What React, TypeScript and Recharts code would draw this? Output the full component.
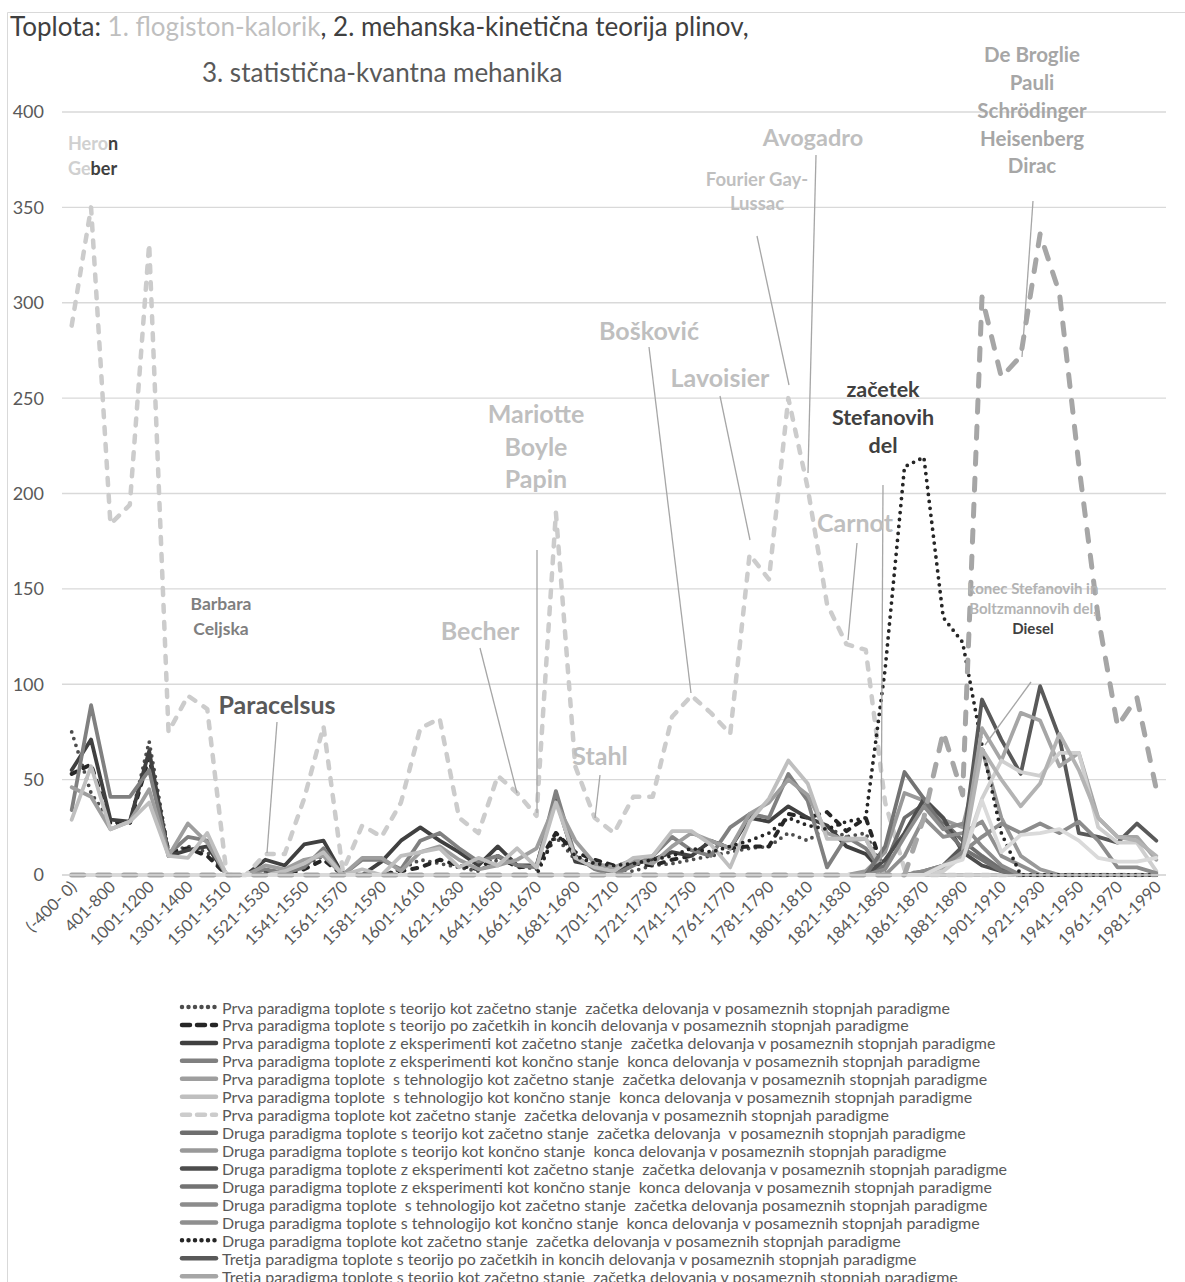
import React from 'react';
import { LineChart, Line, XAxis, YAxis, CartesianGrid } from 'recharts';

const categories = [
  '(-400- 0)', '1-400', '401-800', '801-1000', '1001-1200', '1201-1300', '1301-1400', '1401-1500',
  '1501-1510', '1511-1520', '1521-1530', '1531-1540', '1541-1550', '1551-1560', '1561-1570', '1571-1580',
  '1581-1590', '1591-1600', '1601-1610', '1611-1620', '1621-1630', '1631-1640', '1641-1650', '1651-1660',
  '1661-1670', '1671-1680', '1681-1690', '1691-1700', '1701-1710', '1711-1720', '1721-1730', '1731-1740',
  '1741-1750', '1751-1760', '1761-1770', '1771-1780', '1781-1790', '1791-1800', '1801-1810', '1811-1820',
  '1821-1830', '1831-1840', '1841-1850', '1851-1860', '1861-1870', '1871-1880', '1881-1890', '1891-1900',
  '1901-1910', '1911-1920', '1921-1930', '1931-1940', '1941-1950', '1951-1960', '1961-1970', '1971-1980',
  '1981-1990',
];

const yTicks = [0, 50, 100, 150, 200, 250, 300, 350, 400];

const p1TeorZac = [75,43,28,27,70,12,15,12,0,0, 3,1,5,10,2,0,0,3,8,6, 4,2,8,5,3,20,8,4,3,2, 5,6,8,10,12,14,15,22,18,25, 20,22,0,0,0,0,0,0,0,0, 0,0,0,0,0,0,0];
const p1TeorPoZk = [53,58,27,27,62,12,14,10,0,0, 2,0,3,8,0,0,0,2,4,8, 5,3,10,4,5,22,12,8,5,6, 5,8,10,18,14,15,15,32,30,33, 23,30,0,0,0,0,0,0,0,0, 0,0,0,0,0,0,0];
const p1EkspZac = [55,71,29,28,65,10,13,15,0,0, 8,5,16,18,0,0,7,18,25,18, 12,5,15,5,5,40,7,5,2,6, 8,12,10,18,14,30,28,36,30,26, 15,11,0,0,0,0,0,0,0,0, 0,0,0,0,0,0,0];
const p1EkspKon = [34,89,41,41,55,11,20,18,0,0, 3,1,4,14,0,8,8,3,18,22, 14,7,10,5,4,44,10,3,0,5, 10,20,13,10,25,32,30,53,39,4, 20,14,0,0,0,0,0,0,0,0, 0,0,0,0,0,0,0];
const p1TehnZac = [46,41,24,28,45,10,27,17,0,0, 5,3,8,10,0,9,9,2,12,15, 8,3,5,8,14,38,18,6,4,8, 6,15,22,18,14,32,38,50,42,22, 18,19,0,0,0,0,0,0,0,0, 0,0,0,0,0,0,0];
const p1TehnKon = [29,57,24,28,38,10,9,22,0,0, 0,2,6,12,0,3,0,10,12,14, 4,9,5,14,4,38,9,4,2,9, 10,23,23,16,4,28,40,60,48,19, 19,19,0,0,0,0,0,0,0,0, 0,0,0,0,0,0,0];
const p1Zac = [288,350,184,194,331,75,94,87,0,0, 11,11,40,78,2,26,20,38,77,82, 30,22,52,43,31,190,57,30,22,41, 41,83,94,85,74,168,155,250,203,142, 121,118,38,3,0,0,0,0,0,0, 0,0,0,0,0,0,0];

const d2TeorZac = [0,0,0,0,0,0,0,0,0,0, 0,0,0,0,0,0,0,0,0,0, 0,0,0,0,0,0,0,0,0,0, 0,0,0,0,0,0,0,0,0,0, 0,0,5,30,37,28,18,10,3,0, 0,0,0,0,0,0,0];
const d2TeorKon = [0,0,0,0,0,0,0,0,0,0, 0,0,0,0,0,0,0,0,0,0, 0,0,0,0,0,0,0,0,0,0, 0,0,0,0,0,0,0,0,0,0, 0,2,12,43,39,29,25,66,30,10, 3,0,0,0,0,0,0];
const d2EkspZac = [0,0,0,0,0,0,0,0,0,0, 0,0,0,0,0,0,0,0,0,0, 0,0,0,0,0,0,0,0,0,0, 0,0,0,0,0,0,0,0,0,0, 0,0,8,22,40,30,12,5,2,0, 0,0,0,0,0,0,0];
const d2EkspKon = [0,0,0,0,0,0,0,0,0,0, 0,0,0,0,0,0,0,0,0,0, 0,0,0,0,0,0,0,0,0,0, 0,0,0,0,0,0,0,0,0,0, 0,0,15,54,40,25,14,8,2,0, 0,0,0,0,0,0,0];
const d2TehnZac = [0,0,0,0,0,0,0,0,0,0, 0,0,0,0,0,0,0,0,0,0, 0,0,0,0,0,0,0,0,0,0, 0,0,0,0,0,0,0,0,0,0, 0,0,3,20,36,24,27,15,5,0, 0,0,0,0,0,0,0];
const d2TehnKon = [0,0,0,0,0,0,0,0,0,0, 0,0,0,0,0,0,0,0,0,0, 0,0,0,0,0,0,0,0,0,0, 0,0,0,0,0,0,0,0,0,0, 0,0,0,10,30,20,22,28,10,5, 0,0,0,0,0,0,0];
const d2Zac = [0,0,0,0,0,0,0,0,0,0, 0,0,0,0,0,0,0,0,0,0, 0,0,0,0,0,22,10,6,5,6, 8,10,14,12,15,18,22,30,26,24, 28,30,108,214,219,135,122,68,22,0, 0,0,0,0,0,0,0];

const t3TeorPoZk = [0,0,0,0,0,0,0,0,0,0, 0,0,0,0,0,0,0,0,0,0, 0,0,0,0,0,0,0,0,0,0, 0,0,0,0,0,0,0,0,0,0, 0,0,0,0,2,5,15,92,71,53, 99,72,22,20,17,27,18];
const t3TeorZac = [0,0,0,0,0,0,0,0,0,0, 0,0,0,0,0,0,0,0,0,0, 0,0,0,0,0,0,0,0,0,0, 0,0,0,0,0,0,0,0,0,0, 0,0,0,0,1,3,12,77,60,85, 81,57,64,30,20,20,8];
const t3TeorKon = [0,0,0,0,0,0,0,0,0,0, 0,0,0,0,0,0,0,0,0,0, 0,0,0,0,0,0,0,0,0,0, 0,0,0,0,0,0,0,0,0,0, 0,0,0,0,0,2,10,40,60,54, 52,64,64,25,17,17,2];
const t3EkspZac = [0,0,0,0,0,0,0,0,0,0, 0,0,0,0,0,0,0,0,0,0, 0,0,0,0,0,0,0,0,0,0, 0,0,0,0,0,0,0,0,0,0, 0,0,0,0,0,5,10,66,50,36, 48,74,55,30,20,18,10];
const t3EkspKon = [0,0,0,0,0,0,0,0,0,0, 0,0,0,0,0,0,0,0,0,0, 0,0,0,0,0,0,0,0,0,0, 0,0,0,0,0,0,0,0,0,0, 0,0,0,0,2,5,12,20,27,22, 27,22,28,18,4,4,1];
const t3Tehn = [0,0,0,0,0,0,0,0,0,0, 0,0,0,0,0,0,0,0,0,0, 0,0,0,0,0,0,0,0,0,0, 0,0,0,0,0,0,0,0,0,0, 0,0,0,0,0,5,8,39,12,21, 22,24,18,9,7,7,9];
const t3Zac = [0,0,0,0,0,0,0,0,0,0, 0,0,0,0,0,0,0,0,0,0, 0,0,0,0,0,0,0,0,0,0, 0,0,0,0,0,0,0,0,0,0, 0,0,0,0,30,75,42,303,261,272, 336,305,215,135,78,93,45];

type S = { key: string; name: string; values: number[]; color: string; width: number; dash?: string; kind: 'solid' | 'dash' | 'dot' };

const series: S[] = [
  { key: 'p1TeorZac', name: 'Prva paradigma toplote s teorijo kot začetno stanje  začetka delovanja v posameznih stopnjah paradigme', values: p1TeorZac, color: '#4d4d4d', width: 3.8, dash: '0 7', kind: 'dot' },
  { key: 'p1TeorPoZk', name: 'Prva paradigma toplote s teorijo po začetkih in koncih delovanja v posameznih stopnjah paradigme', values: p1TeorPoZk, color: '#262626', width: 4, dash: '5 8', kind: 'dash' },
  { key: 'p1EkspZac', name: 'Prva paradigma toplote z eksperimenti kot začetno stanje  začetka delovanja v posameznih stopnjah paradigme', values: p1EkspZac, color: '#404040', width: 3.8, kind: 'solid' },
  { key: 'p1EkspKon', name: 'Prva paradigma toplote z eksperimenti kot končno stanje  konca delovanja v posameznih stopnjah paradigme', values: p1EkspKon, color: '#808080', width: 3.8, kind: 'solid' },
  { key: 'p1TehnZac', name: 'Prva paradigma toplote  s tehnologijo kot začetno stanje  začetka delovanja v posameznih stopnjah paradigme', values: p1TehnZac, color: '#9e9e9e', width: 3.8, kind: 'solid' },
  { key: 'p1TehnKon', name: 'Prva paradigma toplote  s tehnologijo kot končno stanje  konca delovanja v posameznih stopnjah paradigme', values: p1TehnKon, color: '#bfbfbf', width: 3.8, kind: 'solid' },
  { key: 'p1Zac', name: 'Prva paradigma toplote kot začetno stanje  začetka delovanja v posameznih stopnjah paradigme', values: p1Zac, color: '#cccccc', width: 4.5, dash: '7 10', kind: 'dash' },
  { key: 'd2TeorZac', name: 'Druga paradigma toplote s teorijo kot začetno stanje  začetka delovanja  v posameznih stopnjah paradigme', values: d2TeorZac, color: '#6e6e6e', width: 3.8, kind: 'solid' },
  { key: 'd2TeorKon', name: 'Druga paradigma toplote s teorijo kot končno stanje  konca delovanja v posameznih stopnjah paradigme', values: d2TeorKon, color: '#999999', width: 3.8, kind: 'solid' },
  { key: 'd2EkspZac', name: 'Druga paradigma toplote z eksperimenti kot začetno stanje  začetka delovanja v posameznih stopnjah paradigme', values: d2EkspZac, color: '#4d4d4d', width: 3.8, kind: 'solid' },
  { key: 'd2EkspKon', name: 'Druga paradigma toplote z eksperimenti kot končno stanje  konca delovanja v posameznih stopnjah paradigme', values: d2EkspKon, color: '#737373', width: 3.8, kind: 'solid' },
  { key: 'd2TehnZac', name: 'Druga paradigma toplote  s tehnologijo kot začetno stanje  začetka delovanja posameznih stopnjah paradigme', values: d2TehnZac, color: '#8c8c8c', width: 3.8, kind: 'solid' },
  { key: 'd2TehnKon', name: 'Druga paradigma toplote s tehnologijo kot končno stanje  konca delovanja v posameznih stopnjah paradigme', values: d2TehnKon, color: '#8f8f8f', width: 3.8, kind: 'solid' },
  { key: 'd2Zac', name: 'Druga paradigma toplote kot začetno stanje  začetka delovanja v posameznih stopnjah paradigme', values: d2Zac, color: '#262626', width: 3.8, dash: '0 7', kind: 'dot' },
  { key: 't3TeorPoZk', name: 'Tretja paradigma toplote s teorijo po začetkih in koncih delovanja v posameznih stopnjah paradigme', values: t3TeorPoZk, color: '#595959', width: 3.8, kind: 'solid' },
  { key: 't3TeorZac', name: 'Tretja paradigma toplote s teorijo kot začetno stanje  začetka delovanja v posameznih stopnjah paradigme', values: t3TeorZac, color: '#a6a6a6', width: 3.8, kind: 'solid' },
  { key: 't3TeorKon', name: 'Tretja paradigma toplote s teorijo kot končno stanje  konca delovanja v posameznih stopnjah paradigme', values: t3TeorKon, color: '#cfcfcf', width: 3.8, kind: 'solid' },
  { key: 't3EkspZac', name: 'Tretja paradigma toplote z eksperimenti kot začetno stanje  začetka delovanja v posameznih stopnjah paradigme', values: t3EkspZac, color: '#b3b3b3', width: 3.8, kind: 'solid' },
  { key: 't3EkspKon', name: 'Tretja paradigma toplote z eksperimenti kot končno stanje  konca delovanja v posameznih stopnjah paradigme', values: t3EkspKon, color: '#8c8c8c', width: 3.8, kind: 'solid' },
  { key: 't3Tehn', name: 'Tretja paradigma toplote s tehnologijo kot začetno stanje  začetka delovanja v posameznih stopnjah paradigme', values: t3Tehn, color: '#dadada', width: 3.8, kind: 'solid' },
  { key: 't3Zac', name: 'Tretja paradigma toplote kot začetno stanje  začetka delovanja v posameznih stopnjah paradigme', values: t3Zac, color: '#a6a6a6', width: 5, dash: '12 14', kind: 'dash' },
];

const data = categories.map((c, i) => {
  const row: Record<string, number | string> = { cat: c };
  series.forEach((s) => { row[s.key] = s.values[i]; });
  return row;
});

const FONT = 'Lato, "Open Sans", sans-serif';
const LIGHT = '#bfbfbf';
const VISIBLE_LEGEND_ROWS = 16;

const XTick = (props: any) => {
  const { x, y, payload } = props;
  const px = x + 6;
  const py = y + 13;
  return (
    <text x={px} y={py} transform={`rotate(-45 ${px} ${py})`} textAnchor="end" fontSize={16.5} fill="#595959" fontFamily={FONT}>
      {payload.value}
    </text>
  );
};

const leaders: [number, number, number, number][] = [
  [277, 722, 267, 853],
  [480, 648, 517, 793],
  [537, 550, 537, 813],
  [600, 775, 595, 818],
  [649, 347, 691, 693],
  [720, 396, 750, 540],
  [757, 236, 789, 385],
  [816, 155, 808, 473],
  [857, 543, 848, 640],
  [883, 485, 881, 862],
  [1033, 201, 1022, 357],
  [1031, 682, 985, 745],
];

const Overlay = () => {
  const legendY0 = 1007;
  const legendStep = 17.95;
  return (
    <svg width={1185} height={1282} style={{ position: 'absolute', left: 0, top: 0, pointerEvents: 'none' }} fontFamily={FONT}>
      <path d="M7.5 1282 V12.5 H1185" fill="none" stroke="#d9d9d9" strokeWidth={1} />
      <text x={10} y={26} fontSize={26} dominantBaseline="central" fill="#404040">
        <tspan>Toplota: </tspan>
        <tspan fill={LIGHT}>1. flogiston-kalorik</tspan>
        <tspan>, 2. mehanska-kinetična teorija plinov,</tspan>
      </text>
      <text x={202} y={72} fontSize={26} dominantBaseline="central" fill="#595959">3. statistična-kvantna mehanika</text>

      {leaders.map((l, i) => (
        <line key={i} x1={l[0]} y1={l[1]} x2={l[2]} y2={l[3]} stroke="#a6a6a6" strokeWidth={1.3} />
      ))}

      <g fontWeight="bold" dominantBaseline="central">
        <text x={68} y={143} fontSize={18}><tspan fill="#d0d0d0">Hero</tspan><tspan fill="#404040">n</tspan></text>
        <text x={68} y={168} fontSize={18}><tspan fill="#d0d0d0">Ge</tspan><tspan fill="#404040">ber</tspan></text>
        <text x={221} y={603} fontSize={17.5} fill="#7f7f7f" textAnchor="middle">Barbara</text>
        <text x={221} y={628} fontSize={17.5} fill="#7f7f7f" textAnchor="middle">Celjska</text>
        <text x={277} y={704} fontSize={25} fill="#595959" textAnchor="middle">Paracelsus</text>
        <text x={480} y={630} fontSize={25} fill={LIGHT} textAnchor="middle">Becher</text>
        <text x={536} y={413} fontSize={25} fill={LIGHT} textAnchor="middle">Mariotte</text>
        <text x={536} y={446} fontSize={25} fill={LIGHT} textAnchor="middle">Boyle</text>
        <text x={536} y={478} fontSize={25} fill={LIGHT} textAnchor="middle">Papin</text>
        <text x={600} y={755} fontSize={25} fill={LIGHT} textAnchor="middle">Stahl</text>
        <text x={649} y={330} fontSize={25} fill={LIGHT} textAnchor="middle">Bošković</text>
        <text x={720} y={377} fontSize={25} fill={LIGHT} textAnchor="middle">Lavoisier</text>
        <text x={757} y={179} fontSize={18.5} fill={LIGHT} textAnchor="middle">Fourier Gay-</text>
        <text x={757} y={203} fontSize={18.5} fill={LIGHT} textAnchor="middle">Lussac</text>
        <text x={813} y={137} fontSize={23.5} fill={LIGHT} textAnchor="middle">Avogadro</text>
        <text x={855} y={522} fontSize={25} fill={LIGHT} textAnchor="middle">Carnot</text>
        <text x={883} y={389} fontSize={21.5} fill="#404040" textAnchor="middle">začetek</text>
        <text x={883} y={417} fontSize={21.5} fill="#404040" textAnchor="middle">Stefanovih</text>
        <text x={883} y={445} fontSize={21.5} fill="#404040" textAnchor="middle">del</text>
        <text x={1032} y={54} fontSize={20.5} fill="#a6a6a6" textAnchor="middle">De Broglie</text>
        <text x={1032} y={82} fontSize={20.5} fill="#a6a6a6" textAnchor="middle">Pauli</text>
        <text x={1032} y={110} fontSize={20.5} fill="#a6a6a6" textAnchor="middle">Schrödinger</text>
        <text x={1032} y={138} fontSize={20.5} fill="#a6a6a6" textAnchor="middle">Heisenberg</text>
        <text x={1032} y={165} fontSize={20.5} fill="#a6a6a6" textAnchor="middle">Dirac</text>
        <text x={1033} y={588} fontSize={15} fill="#b3b3b3" textAnchor="middle">konec Stefanovih in</text>
        <text x={1033} y={608} fontSize={15} fill="#b3b3b3" textAnchor="middle">Boltzmannovih del,</text>
        <text x={1033} y={628} fontSize={15} fill="#404040" textAnchor="middle">Diesel</text>
      </g>

      {series.slice(0, VISIBLE_LEGEND_ROWS).map((s, k) => {
        const y = legendY0 + k * legendStep;
        return (
          <g key={s.key}>
            <line x1={182} y1={y} x2={216} y2={y} stroke={s.color} strokeWidth={4.5}
              strokeDasharray={s.kind === 'dot' ? '0 6.5' : s.kind === 'dash' ? '8 7' : undefined} strokeLinecap="round" />
            <text x={222} y={y} fontSize={16} fill="#595959" dominantBaseline="central" style={{ whiteSpace: 'pre' }}>{s.name}</text>
          </g>
        );
      })}
    </svg>
  );
};

export default function App() {
  return (
    <div style={{ position: 'absolute', left: 0, top: 0, width: 1185, height: 1282, overflow: 'hidden', background: '#fff', fontFamily: FONT }}>
      <LineChart width={1185} height={955} data={data} margin={{ top: 112, right: 19, bottom: 0, left: 22 }}>
        <CartesianGrid vertical={false} stroke="#d9d9d9" strokeWidth={1.3} />
        <XAxis dataKey="cat" interval={1} tick={<XTick />} tickLine={false} tickSize={0} tickMargin={0}
          axisLine={{ stroke: '#d9d9d9', strokeWidth: 1.3 }} height={80} padding={{ left: 9.7, right: 9.7 }} />
        <YAxis domain={[0, 400]} ticks={yTicks} width={40} axisLine={false} tickLine={false} tickSize={0} tickMargin={18}
          tick={{ fontSize: 18, fill: '#595959', fontFamily: FONT }} interval={0} />
        {series.map((s) => (
          <Line key={s.key} dataKey={s.key} name={s.name} type="linear" stroke={s.color} strokeWidth={s.width}
            strokeDasharray={s.dash} strokeLinecap="round" strokeLinejoin="round" dot={false} activeDot={false}
            isAnimationActive={false} />
        ))}
      </LineChart>
      <Overlay />
    </div>
  );
}
